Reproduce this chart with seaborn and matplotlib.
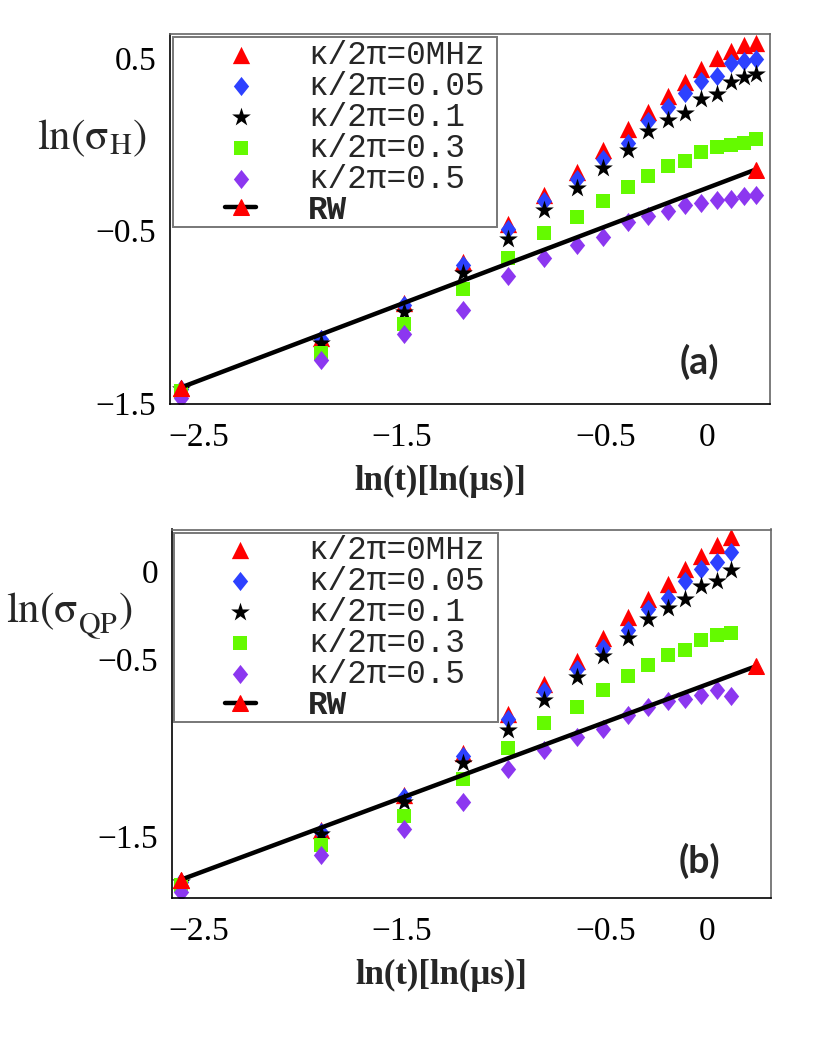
import matplotlib
matplotlib.use('Agg')
import matplotlib.pyplot as plt
import seaborn as sns
from matplotlib.patches import Rectangle

# ln(t) positions of the simulated time steps
ln_t = [-2.59, -1.90, -1.49, -1.20, -0.98, -0.80, -0.64, -0.51, -0.39,
        -0.29, -0.19, -0.11, -0.03, 0.05, 0.12, 0.18, 0.24]

series_labels = ['κ/2π=0MHz', 'κ/2π=0.05', 'κ/2π=0.1', 'κ/2π=0.3', 'κ/2π=0.5']
rw_label = 'RW'

# panel (a): ln(sigma_H)
h_k0 = [-1.41, -1.12, -0.92, -0.68, -0.46, -0.29, -0.16, -0.03, 0.09,
        0.19, 0.28, 0.36, 0.44, 0.50, 0.54, 0.58, 0.59]
h_k005 = [-1.42, -1.13, -0.93, -0.70, -0.49, -0.33, -0.20, -0.085, 0.01,
          0.134, 0.215, 0.30, 0.366, 0.40, 0.474, 0.483, 0.495]
h_k01 = [-1.42, -1.15, -0.97, -0.745, -0.55, -0.38, -0.25, -0.138, -0.033,
         0.076, 0.142, 0.184, 0.262, 0.292, 0.365, 0.392, 0.41]
h_k03 = [-1.43, -1.21, -1.04, -0.84, -0.656, -0.516, -0.422, -0.326, -0.248,
         -0.181, -0.125, -0.094, -0.042, -0.013, 0.0, 0.01, 0.03]
h_k05 = [-1.47, -1.25, -1.10, -0.96, -0.765, -0.656, -0.584, -0.535, -0.452,
         -0.415, -0.384, -0.351, -0.338, -0.322, -0.318, -0.299, -0.293]

# panel (b): ln(sigma_QP), 15 time steps
qp_k0 = [-1.75, -1.47, -1.27, -1.03, -0.81, -0.64, -0.51, -0.38, -0.26,
         -0.16, -0.07, 0.013, 0.089, 0.151, 0.195]
qp_k005 = [-1.76, -1.48, -1.28, -1.05, -0.84, -0.68, -0.554, -0.435, -0.331,
           -0.213, -0.151, -0.057, 0.013, 0.051, 0.11]
qp_k01 = [-1.76, -1.49, -1.31, -1.09, -0.90, -0.73, -0.60, -0.482, -0.378,
          -0.27, -0.208, -0.16, -0.085, -0.057, 0.01]
qp_k03 = [-1.78, -1.55, -1.39, -1.18, -1.00, -0.86, -0.77, -0.671, -0.592,
          -0.529, -0.472, -0.444, -0.387, -0.363, -0.349]
qp_k05 = [-1.82, -1.61, -1.46, -1.31, -1.12, -1.015, -0.94, -0.896, -0.813,
          -0.769, -0.737, -0.724, -0.703, -0.675, -0.705]

# random walk reference line (end points)
rw_x = [-2.59, 0.24]
h_rw = [-1.41, -0.145]
qp_rw = [-1.75, -0.539]

x_ticks = [-2.5, -1.5, -0.5, 0]
x_ticklabels = ['−2.5', '−1.5', '−0.5', '0']
h_yticks = [0.5, -0.5, -1.5]
h_yticklabels = ['0.5', '−0.5', '−1.5']
qp_yticks = [0, -0.5, -1.5]
qp_yticklabels = ['0', '−0.5', '−1.5']

colors = ['#ff0000', '#2d41ff', '#000000', '#64fa00', '#8c37f0']
diamond = [(0, 1), (0.8, 0), (0, -1), (-0.8, 0), (0, 1)]
markers = ['^', diamond, '*', 's', diamond]
sizes = [155, 190, 200, 90, 190]

sns.set_style('white')
plt.rcParams['font.family'] = ['Liberation Serif', 'DejaVu Serif']
plt.rcParams['mathtext.fontset'] = 'stix'

fig = plt.figure(figsize=(8.3, 10.37), dpi=100)


def draw_panel(rect, xlim, ylim, series, rw_y, yticks, yticklabels,
               ylabel, ylabel_xy, legend_anchor, box, tag, tag_xy):
    ax = fig.add_axes(rect)
    n = len(series[0])
    for ys, lab, c, m, s in zip(series, series_labels, colors, markers, sizes):
        sns.scatterplot(x=ln_t[:n], y=ys, ax=ax, color=c, marker=m, s=s,
                        linewidth=0, label=lab, zorder=2)
    sns.lineplot(x=rw_x, y=rw_y, ax=ax, color='black', linewidth=3.2,
                 marker='^', markersize=12, markerfacecolor='#ff0000',
                 markeredgecolor='#ff0000', label=rw_label, zorder=3)

    ax.set_xlim(*xlim)
    ax.set_ylim(*ylim)
    ax.set_xticks(x_ticks)
    ax.set_xticklabels(x_ticklabels)
    ax.set_yticks(yticks)
    ax.set_yticklabels(yticklabels)
    ax.tick_params(axis='both', direction='in', length=4, width=1,
                   labelsize=24, colors='black')
    ax.tick_params(axis='x', pad=13)
    ax.tick_params(axis='y', pad=10)
    for side in ['left', 'bottom']:
        ax.spines[side].set_color('black')
        ax.spines[side].set_linewidth(1.2)
    for side in ['top', 'right']:
        ax.spines[side].set_color('#666666')
        ax.spines[side].set_linewidth(1.2)

    ax.set_xlabel('ln(t)[ln(μs)]', fontsize=25, fontweight='bold')
    ax.xaxis.set_label_coords(0.45, -0.165)
    ax.set_ylabel(ylabel, fontsize=31, rotation=0, ha='center', va='center')
    ax.yaxis.set_label_coords(*ylabel_xy)

    # legend box drawn separately so its size can follow the original
    ax.add_patch(Rectangle((box[0], box[1]), box[2] - box[0], box[3] - box[1],
                           transform=ax.transAxes, facecolor='white',
                           edgecolor='#777777', linewidth=1.4, zorder=4))
    leg = ax.legend(loc='upper left', bbox_to_anchor=legend_anchor,
                    frameon=False, borderpad=0, borderaxespad=0,
                    handlelength=0.95, handletextpad=1.6, labelspacing=-0.0,
                    markerscale=1.0,
                    prop={'family': ['Liberation Mono', 'DejaVu Sans Mono'],
                          'size': 23.5})
    leg.set_zorder(5)
    leg.get_texts()[-1].set_fontweight('bold')

    ax.text(tag_xy[0], tag_xy[1], tag, transform=ax.transAxes,
            ha='center', va='center', fontsize=27, fontweight='bold',
            family=['Lato', 'DejaVu Sans'])
    return ax


draw_panel([170 / 830, 1 - 404 / 1037, 600 / 830, 370 / 1037],
           (-2.642, 0.310), (-1.505, 0.641),
           [h_k0, h_k005, h_k01, h_k03, h_k05], h_rw,
           h_yticks, h_yticklabels, r'$\mathrm{ln(σ}_\mathrm{H}\mathrm{)}$',
           (-0.13, 0.719),
           (0.0917, 0.984), (0.005, 0.478, 0.545, 0.992), '(a)', (0.882, 0.113))

draw_panel([172 / 830, 1 - 898 / 1037, 599 / 830, 368.5 / 1037],
           (-2.632, 0.315), (-1.853, 0.237),
           [qp_k0, qp_k005, qp_k01, qp_k03, qp_k05], qp_rw,
           qp_yticks, qp_yticklabels,
           r'$\mathrm{ln}\left(\mathrm{σ}_\mathrm{QP}^{\ }\right)$',
           (-0.172, 0.7625),
           (0.088, 0.985), (0.003, 0.4776, 0.544, 0.9905), '(b)', (0.881, 0.100))

fig.savefig('out.png', dpi=100)
